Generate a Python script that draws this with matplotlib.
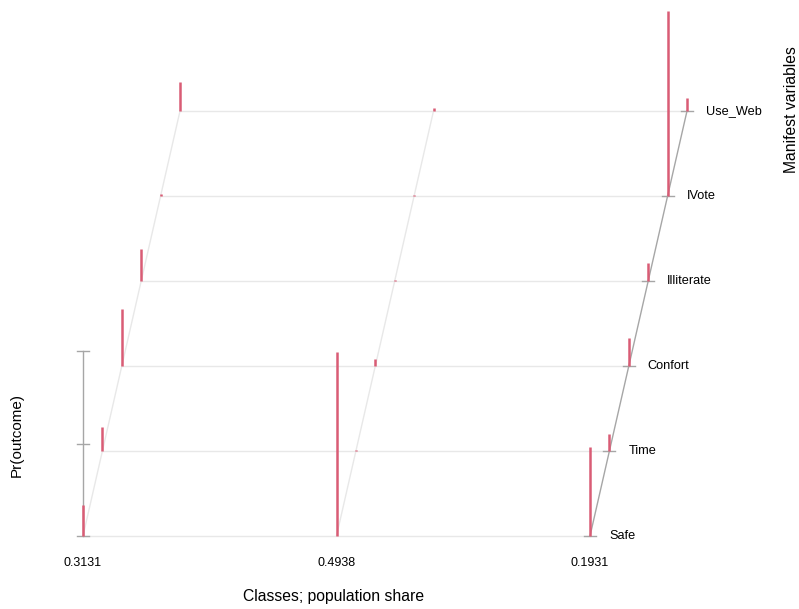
import matplotlib
matplotlib.use("Agg")
import matplotlib.pyplot as plt

plt.rcParams['font.family'] = ['Liberation Sans', 'DejaVu Sans']

# manifest variables (front to back) and latent classes
variables = ["Safe", "Time", "Confort", "Illiterate", "IVote", "Use_Web"]
class_share = [0.3131, 0.4938, 0.1931]

# Pr(outcome) per class, one value per manifest variable
class1_probs = [0.17, 0.13, 0.31, 0.175, 0.01, 0.157]
class2_probs = [0.995, 0.005, 0.04, 0.005, 0.005, 0.015]
class3_probs = [0.48, 0.09, 0.15, 0.10, 1.00, 0.07]
probs = [class1_probs, class2_probs, class3_probs]

# oblique projection (pixel units of the canvas)
X0, Y0 = 83.0, 73.0
CLASS_GAP = 253.5
VAR_DX, VAR_DY = 19.4, 85.0
Z_H = 185.0

BAR_COL = '#d95c75'
GRID_COL = '#e8e8e8'
AXIS_COL = '#a6a6a6'


def proj(c, k, p=0.0):
    return X0 + c * CLASS_GAP + k * VAR_DX, Y0 + k * VAR_DY + p * Z_H


fig = plt.figure(figsize=(7.99, 6.09), dpi=100)
ax = fig.add_axes([0, 0, 1, 1])
ax.set_xlim(0, 799)
ax.set_ylim(0, 609)
ax.axis('off')

nc = len(class_share)
nv = len(variables)

# horizontal grid lines per variable
for k in range(nv):
    xa, ya = proj(0, k)
    xb, yb = proj(nc - 1, k)
    ax.plot([xa, xb], [ya, yb], color=GRID_COL, lw=1.0, zorder=1)
    ax.plot([xb - 6, xb + 6], [yb, yb], color=AXIS_COL, lw=1.0, zorder=1)
    ax.text(xb + 19, yb, variables[k], fontsize=9.2, va='center', ha='left')

# depth lines per class
for c in range(nc):
    xa, ya = proj(c, 0)
    xb, yb = proj(c, nv - 1)
    col = AXIS_COL if c == nc - 1 else GRID_COL
    ax.plot([xa, xb], [ya, yb], color=col, lw=1.0, zorder=1)
    ax.text(xa, Y0 - 27, "%.4f" % class_share[c], fontsize=9,
            ha='center', va='center')

# vertical probability axis
xa, ya = proj(0, 0)
ax.plot([xa, xa], [ya, ya + Z_H], color=AXIS_COL, lw=1.0, zorder=1)
for t in [0, 0.5, 1.0]:
    ax.plot([xa - 6, xa + 6], [ya + t * Z_H] * 2, color=AXIS_COL, lw=1.0, zorder=1)

# bars
for c in range(nc):
    for k in range(nv):
        xb, yb = proj(c, k)
        xt, yt = proj(c, k, probs[c][k])
        ax.plot([xb, xt], [yb, yt], color=BAR_COL, lw=1.8,
                solid_capstyle='butt', zorder=3)

ax.text(17, 609 - 435, "Pr(outcome)", rotation=90, fontsize=11,
        ha='center', va='center')
ax.text(334, 12, "Classes; population share", fontsize=11.3,
        ha='center', va='center')
ax.text(792, 609 - 110, "Manifest variables", rotation=90, fontsize=11.3,
        ha='center', va='center')

fig.savefig("out.png", dpi=100)
